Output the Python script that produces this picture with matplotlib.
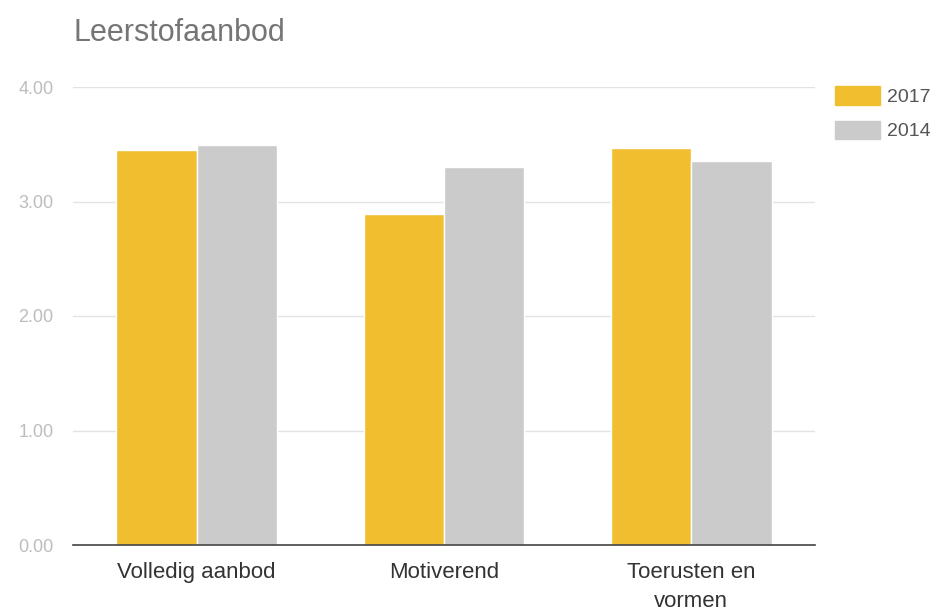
import matplotlib
matplotlib.use("Agg")
import matplotlib.pyplot as plt
import numpy as np
from matplotlib.patches import Patch

categories = ["Volledig aanbod", "Motiverend", "Toerusten en\nvormen"]
series_names = ["2017", "2014"]
values_2017 = [3.45, 2.89, 3.47]
values_2014 = [3.49, 3.30, 3.35]
yticks = [0, 1, 2, 3, 4]
ytick_labels = ["0.00", "1.00", "2.00", "3.00", "4.00"]

c2017 = "#F1BE2F"
c2014 = "#CBCBCB"

plt.rcParams['font.family'] = ['Liberation Sans', 'DejaVu Sans']

fig = plt.figure(figsize=(9.39, 6.11), dpi=100)
ax = fig.add_axes([73/939, 1-545/611, (815-73)/939, (545-87)/611])

x = np.arange(len(categories))
w = 0.325
ax.bar(x - w/2, values_2017, w, color=c2017, edgecolor="white", linewidth=1, zorder=3)
ax.bar(x + w/2, values_2014, w, color=c2014, edgecolor="white", linewidth=1, zorder=3)

ax.set_xlim(-0.5, 2.5)
ax.set_ylim(0, 4)
ax.set_yticks(yticks)
ax.set_yticklabels(ytick_labels)
ax.set_xticks(x)
ax.set_xticklabels(categories, linespacing=1.5)

ax.grid(axis="y", color="#E3E3E3", linewidth=1, zorder=0)
for s in ["top", "right", "left"]:
    ax.spines[s].set_visible(False)
ax.spines["bottom"].set_color("#444444")
ax.spines["bottom"].set_linewidth(1.2)
ax.spines["bottom"].set_zorder(4)

ax.tick_params(axis="y", length=0, pad=14, labelsize=13, labelcolor="#BDBDBD")
ax.tick_params(axis="x", length=0, pad=12, labelsize=16, labelcolor="#333333")

fig.text(73/939, 1-33/611, "Leerstofaanbod", fontsize=22, color="#757575",
         ha="left", va="center")

handles = [Patch(color=c2017), Patch(color=c2014)]
fig.legend(handles, series_names, loc="upper left",
           bbox_to_anchor=(835/939, 1-86/611), frameon=False, borderpad=0,
           borderaxespad=0,
           fontsize=14, labelcolor="#555555", handlelength=2.3, handleheight=1.1,
           handletextpad=0.4, labelspacing=0.75)

fig.savefig("out.png", dpi=100)
